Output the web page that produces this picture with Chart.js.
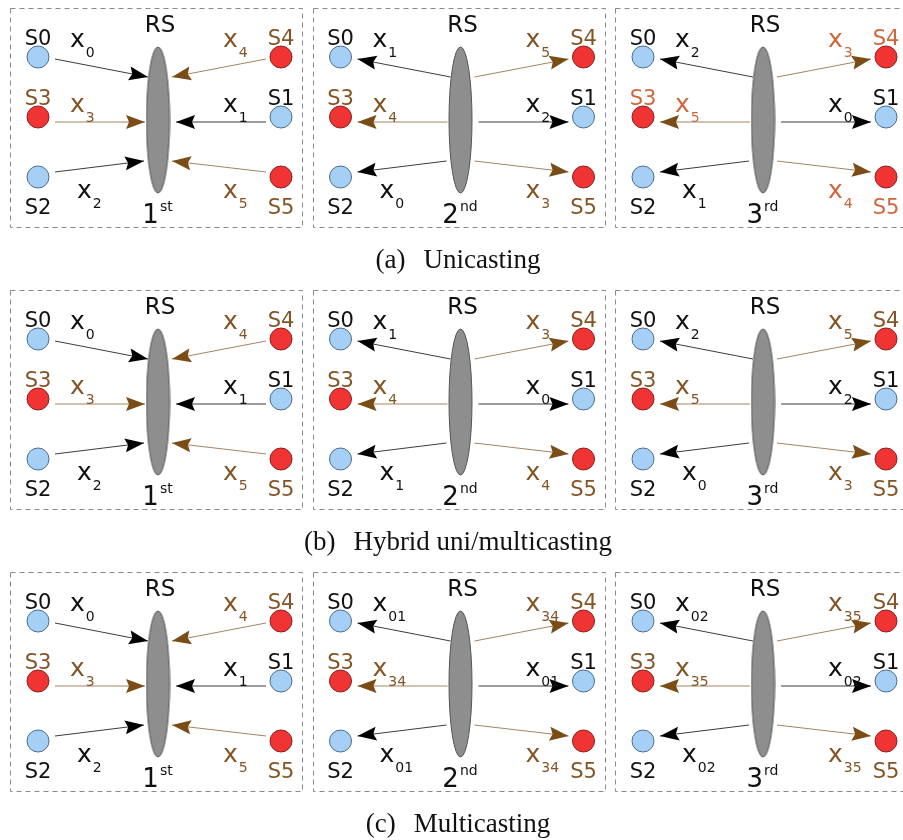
<!DOCTYPE html>
<html>
<head>
<meta charset="utf-8">
<title>Relay transmission schemes</title>
<script src="https://cdn.jsdelivr.net/npm/chart.js@4.4.1/dist/chart.umd.min.js"></script>
<style>
  html, body { margin: 0; background: #fff; }
  canvas { display: block; }
</style>
</head>
<body>
<canvas id="chart" width="903" height="840"></canvas>
<script>
// ---- data ----
const SCHEMES = ['Unicasting', 'Hybrid uni/multicasting', 'Multicasting'];
const SCHEME_TAGS = ['(a)', '(b)', '(c)'];
const SLOTS = ['1', '2', '3'];
const SLOT_SUFFIX = ['st', 'nd', 'rd'];
const SLOT_UPLINK = [true, false, false];

const NODES = ['S0', 'S1', 'S2', 'S3', 'S4', 'S5'];
const NODE_SIDE = [0, 1, 0, 0, 1, 1];   // 0 = left column, 1 = right column
const NODE_ROW = [0, 1, 2, 1, 0, 2];    // top, middle, bottom
const NODE_GROUP = [0, 0, 0, 1, 1, 1];  // 0 = blue group, 1 = red group

// packet subscript carried on each node's link, per slot, in node order S0..S5
const UNICAST = [
  ['0', '1', '2', '3', '4', '5'],
  ['1', '2', '0', '4', '5', '3'],
  ['2', '0', '1', '5', '3', '4'],
];
const HYBRID = [
  ['0', '1', '2', '3', '4', '5'],
  ['1', '0', '1', '4', '3', '4'],
  ['2', '2', '0', '5', '5', '3'],
];
const MULTICAST = [
  ['0', '1', '2', '3', '4', '5'],
  ['01', '01', '01', '34', '34', '34'],
  ['02', '02', '02', '35', '35', '35'],
];
const PACKETS = [UNICAST, HYBRID, MULTICAST];

// panels whose red-group labels are drawn in orange: [scheme, slot]
const HIGHLIGHT = [[0, 2]];

// ---- layout & style ----
const L = {
  panelX0: 10, panelDX: 302.5, panelW: 292,
  panelY0: 8, panelDY: 282, panelH: 219,
  colX: [28, 271], rowY: [49, 109, 169],
  rsX: 148, rsY: 112, rsRX: 11.5, rsRY: 73,
  nodeR: 11,
  nodeEndX: [45, 256],
  rsEndX: [[138, 135, 134], [162, 166, 162]],
  nodeEndY: [51, 114, 164],
  rsEndY: [69, 114, 153],
  nameBase: [37, 97, 206],
  rsLabelBase: 24,
  xLabelX: [[60, 60, 67], [213, 213, 213]],
  xLabelBase: [39, 104, 190],
  subDrop: 10,
  slotX: 147, slotBase: 215,
  captionX: 458, captionBase: 260, captionGap: 18,
  headLen: 19, headHalf: 7, headNotch: 3,
};

const C = {
  black: '#111111',
  brown: '#845424',
  orange: '#d0663a',
  blueFill: '#a5cff5', blueEdge: '#4d6d8d',
  redFill: '#f03434', redEdge: '#8a2020',
  lineDark: '#3c3c3c', headDark: '#000000',
  lineBrown: '#a4845f', headBrown: '#7a4c16',
  rsFill: '#8e8e8e', rsEdge: '#555555',
  box: '#8a8a8a',
};

const SANS = '"DejaVu Sans", sans-serif';
const SERIF = '"Liberation Serif", "DejaVu Serif", serif';

function origin(s, t) {
  return { x: L.panelX0 + t * L.panelDX, y: L.panelY0 + s * L.panelDY };
}

function isHighlight(s, t) {
  return HIGHLIGHT.some(([hs, ht]) => hs === s && ht === t);
}

// ---- datasets ----
const datasets = [];

SCHEMES.forEach((_, s) => {
  SLOTS.forEach((_, t) => {
    const o = origin(s, t);
    NODES.forEach((_, n) => {
      const side = NODE_SIDE[n], row = NODE_ROW[n];
      const nodePt = { x: o.x + L.nodeEndX[side], y: o.y + L.nodeEndY[row] };
      const rsPt = { x: o.x + L.rsEndX[side][row], y: o.y + L.rsEndY[row] };
      const red = NODE_GROUP[n] === 1;
      datasets.push({
        arrow: true,
        data: SLOT_UPLINK[t] ? [nodePt, rsPt] : [rsPt, nodePt],
        showLine: true,
        borderColor: red ? C.lineBrown : C.lineDark,
        borderWidth: 1,
        headColor: red ? C.headBrown : C.headDark,
        pointRadius: 0,
        pointHoverRadius: 0,
        clip: false,
        order: 3,
      });
    });
  });
});

// relay station ellipse as a point style
const rsImg = document.createElement('canvas');
rsImg.width = Math.ceil(L.rsRX * 2 + 2);
rsImg.height = Math.ceil(L.rsRY * 2 + 2);
(() => {
  const c = rsImg.getContext('2d');
  c.beginPath();
  c.ellipse(rsImg.width / 2, rsImg.height / 2, L.rsRX, L.rsRY, 0, 0, Math.PI * 2);
  c.fillStyle = C.rsFill;
  c.fill();
  c.lineWidth = 1;
  c.strokeStyle = C.rsEdge;
  c.stroke();
})();

const rsPoints = [];
SCHEMES.forEach((_, s) => SLOTS.forEach((_, t) => {
  const o = origin(s, t);
  rsPoints.push({ x: o.x + L.rsX, y: o.y + L.rsY });
}));
datasets.push({
  data: rsPoints,
  pointStyle: rsImg,
  pointRadius: 1,
  pointHoverRadius: 1,
  clip: false,
  order: 2,
});

[0, 1].forEach(g => {
  const pts = [];
  SCHEMES.forEach((_, s) => SLOTS.forEach((_, t) => {
    const o = origin(s, t);
    NODES.forEach((_, n) => {
      if (NODE_GROUP[n] !== g) return;
      pts.push({ x: o.x + L.colX[NODE_SIDE[n]], y: o.y + L.rowY[NODE_ROW[n]] });
    });
  }));
  datasets.push({
    data: pts,
    pointRadius: L.nodeR,
    pointHoverRadius: L.nodeR,
    pointBackgroundColor: g ? C.redFill : C.blueFill,
    pointBorderColor: g ? C.redEdge : C.blueEdge,
    pointBorderWidth: 1,
    clip: false,
    order: 1,
  });
});

// ---- plugins ----
const panelBoxes = {
  id: 'panelBoxes',
  beforeDatasetsDraw(chart) {
    const { ctx, scales: { x, y } } = chart;
    ctx.save();
    ctx.strokeStyle = C.box;
    ctx.lineWidth = 1;
    ctx.setLineDash([5, 4]);
    SCHEMES.forEach((_, s) => SLOTS.forEach((_, t) => {
      const o = origin(s, t);
      const x0 = Math.round(x.getPixelForValue(o.x)) + 0.5;
      const x1 = Math.round(x.getPixelForValue(o.x + L.panelW)) + 0.5;
      const y0 = Math.round(y.getPixelForValue(o.y)) + 0.5;
      const y1 = Math.round(y.getPixelForValue(o.y + L.panelH)) + 0.5;
      ctx.strokeRect(x0, y0, x1 - x0, y1 - y0);
    }));
    ctx.restore();
  },
};

const arrowHeads = {
  id: 'arrowHeads',
  afterDatasetsDraw(chart) {
    const { ctx } = chart;
    ctx.save();
    chart.data.datasets.forEach((ds, i) => {
      if (!ds.arrow) return;
      const [a, b] = chart.getDatasetMeta(i).data;
      const ang = Math.atan2(b.y - a.y, b.x - a.x);
      ctx.save();
      ctx.translate(b.x, b.y);
      ctx.rotate(ang);
      ctx.beginPath();
      ctx.moveTo(0, 0);
      ctx.lineTo(-L.headLen, -L.headHalf);
      ctx.lineTo(-L.headLen + L.headNotch, 0);
      ctx.lineTo(-L.headLen, L.headHalf);
      ctx.closePath();
      ctx.fillStyle = ds.headColor;
      ctx.fill();
      ctx.restore();
    });
    ctx.restore();
  },
};

function subText(ctx, px, py, main, sub, color) {
  ctx.fillStyle = color;
  ctx.font = `25px ${SANS}`;
  ctx.textAlign = 'left';
  ctx.fillText(main, px, py);
  const w = ctx.measureText(main).width;
  ctx.font = `14px ${SANS}`;
  ctx.fillText(sub, px + w + 1, py + L.subDrop);
}

const diagramText = {
  id: 'diagramText',
  afterDatasetsDraw(chart) {
    const { ctx, scales: { x, y } } = chart;
    const X = v => x.getPixelForValue(v);
    const Y = v => y.getPixelForValue(v);
    ctx.save();
    ctx.textBaseline = 'alphabetic';

    SCHEMES.forEach((name, s) => {
      SLOTS.forEach((slot, t) => {
        const o = origin(s, t);
        const hl = isHighlight(s, t);
        const redColor = hl ? C.orange : C.brown;

        // relay label
        ctx.fillStyle = C.black;
        ctx.font = `23px ${SANS}`;
        ctx.textAlign = 'center';
        ctx.fillText('RS', X(o.x + L.rsX + 2), Y(o.y + L.rsLabelBase));

        // node names
        ctx.font = `21px ${SANS}`;
        NODES.forEach((nm, n) => {
          ctx.fillStyle = NODE_GROUP[n] ? redColor : C.black;
          ctx.textAlign = 'center';
          ctx.fillText(nm, X(o.x + L.colX[NODE_SIDE[n]]), Y(o.y + L.nameBase[NODE_ROW[n]]));
        });

        // packet labels
        NODES.forEach((_, n) => {
          const side = NODE_SIDE[n], row = NODE_ROW[n];
          subText(ctx, X(o.x + L.xLabelX[side][row]), Y(o.y + L.xLabelBase[row]),
            'x', PACKETS[s][t][n], NODE_GROUP[n] ? redColor : C.black);
        });

        // slot label
        ctx.fillStyle = C.black;
        ctx.font = `26px ${SANS}`;
        const w1 = ctx.measureText(slot).width;
        ctx.font = `14px ${SANS}`;
        const w2 = ctx.measureText(SLOT_SUFFIX[t]).width;
        const sx = X(o.x + L.slotX) - (w1 + w2) / 2;
        ctx.textAlign = 'left';
        ctx.font = `26px ${SANS}`;
        ctx.fillText(slot, sx, Y(o.y + L.slotBase));
        ctx.font = `14px ${SANS}`;
        ctx.fillText(SLOT_SUFFIX[t], sx + w1 + 1, Y(o.y + L.slotBase - 12));
      });

      // caption
      const o = origin(s, 0);
      ctx.fillStyle = C.black;
      ctx.font = `27px ${SERIF}`;
      const tw = ctx.measureText(SCHEME_TAGS[s]).width;
      const nw = ctx.measureText(name).width;
      const cx = X(L.captionX) - (tw + L.captionGap + nw) / 2;
      ctx.textAlign = 'left';
      ctx.fillText(SCHEME_TAGS[s], cx, Y(o.y + L.captionBase));
      ctx.fillText(name, cx + tw + L.captionGap, Y(o.y + L.captionBase));
    });
    ctx.restore();
  },
};

new Chart(document.getElementById('chart'), {
  type: 'scatter',
  data: { datasets },
  options: {
    responsive: false,
    animation: false,
    devicePixelRatio: 1,
    events: [],
    layout: { padding: 0, autoPadding: false },
    plugins: {
      legend: { display: false },
      tooltip: { enabled: false },
    },
    scales: {
      x: { type: 'linear', display: false, min: 0, max: 903 },
      y: { type: 'linear', display: false, min: 0, max: 840, reverse: true },
    },
  },
  plugins: [panelBoxes, arrowHeads, diagramText],
});
</script>
</body>
</html>
